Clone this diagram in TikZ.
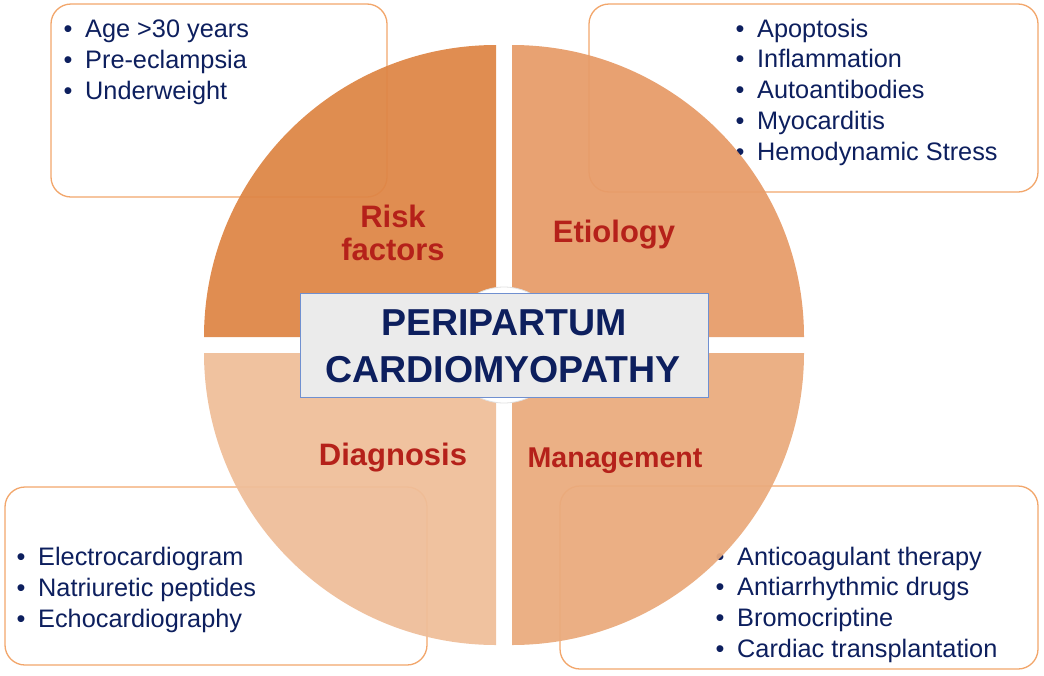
\documentclass[tikz,border=0pt]{standalone}
\usepackage{fontspec}
\setmainfont{Liberation Sans}
\definecolor{navy}{HTML}{0D1F5E}
\definecolor{lblred}{HTML}{B5211A}
\definecolor{boxline}{HTML}{F2A66B}
\definecolor{qtl}{HTML}{DE8646}
\definecolor{qtr}{HTML}{E79C69}
\definecolor{qbl}{HTML}{EFBE99}
\definecolor{qbr}{HTML}{EAAB7D}
\definecolor{titlefill}{HTML}{EBEBEB}
\definecolor{titleline}{HTML}{7090D0}
\tikzset{
  listbox/.style={draw=boxline, line width=1.3pt, fill=white, rounded corners=20pt},
  quarter/.style={fill opacity=0.94, draw=none},
  item/.style={anchor=base west, inner sep=0pt, text=navy, font=\fontsize{25.3}{28}\selectfont},
  bul/.style={anchor=base, inner sep=0pt, text=navy, font=\fontsize{25.3}{28}\selectfont},
  lbl/.style={anchor=base, inner sep=0pt, text=lblred, font=\bfseries\fontsize{31}{34}\selectfont},
  ttl/.style={anchor=base, inner sep=0pt, text=navy, font=\bfseries\fontsize{37.5}{40}\selectfont}
}
\begin{document}
\begin{tikzpicture}[x=1pt,y=-1pt]
\useasboundingbox (0,0) rectangle (1044,675);
% list boxes
\draw[listbox] (51,4) rectangle (387,197);
\draw[listbox] (589,4) rectangle (1038,192);
\draw[listbox] (5,487) rectangle (427,665);
\draw[listbox] (560,486) rectangle (1038,669);
% risk list
\foreach \t [count=\i] in {Age >30 years, Pre-eclampsia, Underweight}{
  \node[bul] (rb\i) at (68,{6+31*\i}) {•};
  \node[item] (rt\i) at (85,{6+31*\i}) {\t};
}
% etiology list
\foreach \t [count=\i] in {Apoptosis, Inflammation, Autoantibodies, Myocarditis, Hemodynamic Stress}{
  \node[bul] (eb\i) at (740,{6.2+30.8*\i}) {•};
  \node[item] (et\i) at (757,{6.2+30.8*\i}) {\t};
}
% diagnosis list
\foreach \t [count=\i] in {Electrocardiogram, Natriuretic peptides, Echocardiography}{
  \node[bul] (db\i) at (21,{534+31*\i}) {•};
  \node[item] (dt\i) at (38,{534+31*\i}) {\t};
}
% management list
\foreach \t [count=\i] in {Anticoagulant therapy, Antiarrhythmic drugs, Bromocriptine, Cardiac transplantation}{
  \node[bul] (mb\i) at (720,{534.2+30.8*\i}) {•};
  \node[item] (mt\i) at (737,{534.2+30.8*\i}) {\t};
}
% quarters
\fill[quarter, qtl] (496,337) -- (204,337) arc[start angle=180, end angle=90, radius=292pt] -- cycle;
\fill[quarter, qtr] (512,337) -- (804,337) arc[start angle=0, end angle=90, radius=292pt] -- cycle;
\fill[quarter, qbl] (496,353) -- (204,353) arc[start angle=180, end angle=270, radius=292pt] -- cycle;
\fill[quarter, qbr] (512,353) -- (804,353) arc[start angle=0, end angle=-90, radius=292pt] -- cycle;
% labels
\node[lbl] (risk1) at (393,227) {Risk};
\node[lbl] (risk2) at (393,260) {factors};
\node[lbl] (etio) at (614,242) {Etiology};
\node[lbl] (diag) at (393,465) {Diagnosis};
\node[lbl, font=\bfseries\fontsize{28.6}{32}\selectfont] (mgmt) at (615,467) {Management};
% centre
\draw[fill=white, draw=black!12, line width=0.8pt] (504,345) circle[radius=58pt];
\draw[fill=titlefill, draw=titleline, line width=1pt] (300,293) rectangle (708,397);
\node[ttl] (t1) at (504,335) {PERIPARTUM};
\node[ttl] (t2) at (503,382) {CARDIOMYOPATHY};
\end{tikzpicture}
\end{document}
